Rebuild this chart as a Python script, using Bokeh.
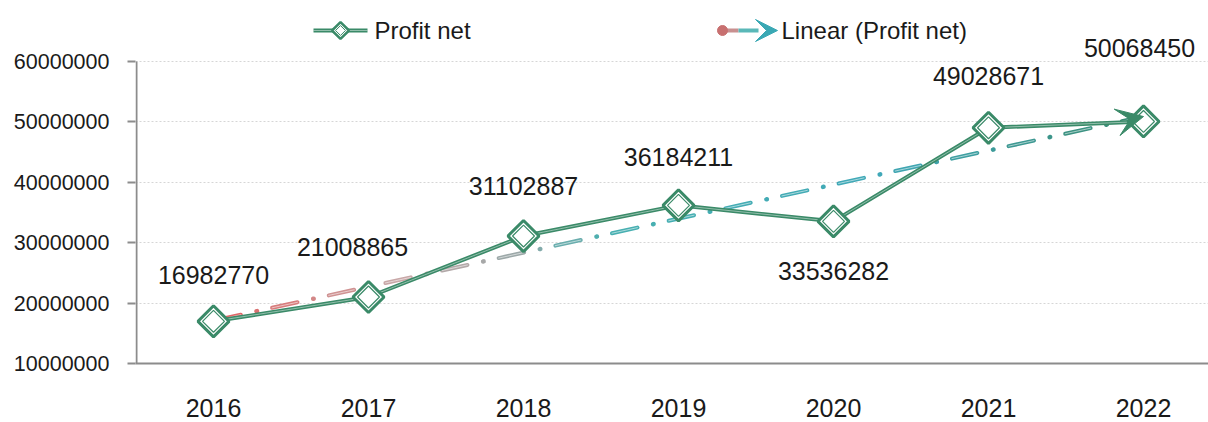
import numpy as np
from bokeh.plotting import figure
from bokeh.models import (ColumnDataSource, FixedTicker, LabelSet, Arrow, VeeHead,
                          Range1d, BasicTickFormatter, Label)
from bokeh.embed import file_html
from bokeh.resources import INLINE
from bokeh.core.properties import value

# ---------------- data ----------------
years = [2016, 2017, 2018, 2019, 2020, 2021, 2022]
profit = [16982770, 21008865, 31102887, 36184211, 33536282, 49028671, 50068450]
y_ticks = [10000000, 20000000, 30000000, 40000000, 50000000, 60000000]
series_name = "Profit net"
trend_name = "Linear (Profit net)"
# label placement (screen px): up positive
label_dy = [46, 50, 50, 48, -50, 52, 73]
label_dx = [0, -16, 0, 0, 0, 0, -4]

# ---------------- layout ----------------
FONT = "Liberation Sans"
GREEN = "#3a8a68"
TXT = "#1a1a1a"
W, H = 1208, 422
LEFT, BOTTOM, TOP = 135, 59, 8
frame_w = W - LEFT
frame_h = H - BOTTOM - TOP
PX_YEAR = 155.0
PX_UNIT = 302 / 50e6
x0 = years[0] - 78 / PX_YEAR
x1 = x0 + frame_w / PX_YEAR
y0 = y_ticks[0]
y1 = y0 + frame_h / PX_UNIT


def sx(px):  # page x -> data x
    return years[0] + (px - 213) / PX_YEAR


def sy(py):  # page y -> data y
    return y_ticks[-1] + (61 - py) / PX_UNIT


p = figure(width=W, height=H, x_range=Range1d(x0, x1), y_range=Range1d(y0, y1),
           output_backend="svg", toolbar_location=None,
           min_border_left=LEFT, min_border_bottom=BOTTOM,
           min_border_top=TOP, min_border_right=0)
p.outline_line_color = None
p.background_fill_color = "white"

# axes
p.yaxis.ticker = FixedTicker(ticks=y_ticks)
p.yaxis.formatter = BasicTickFormatter(use_scientific=False)
p.yaxis.axis_line_color = None
p.yaxis.major_tick_out = 8
p.yaxis.major_tick_in = 0
p.yaxis.major_tick_line_color = "#8c8c8c"
p.yaxis.major_tick_line_width = 2
p.yaxis.minor_tick_line_color = None
p.yaxis.major_label_text_font = FONT
p.yaxis.major_label_text_font_size = "21.5px"
p.yaxis.major_label_text_color = TXT
p.yaxis.major_label_standoff = 18

p.xaxis.ticker = FixedTicker(ticks=years)
p.xaxis.axis_line_color = "#8c8c8c"
p.xaxis.axis_line_width = 2
p.xaxis.major_tick_line_color = None
p.xaxis.minor_tick_line_color = None
p.xaxis.major_label_text_font = FONT
p.xaxis.major_label_text_font_size = "25px"
p.xaxis.major_label_text_color = TXT
p.xaxis.major_label_standoff = 29

p.xgrid.visible = False
p.ygrid.ticker = FixedTicker(ticks=y_ticks[1:])
p.ygrid.grid_line_color = "#d6d6d6"
p.ygrid.grid_line_dash = "2 2"
p.ygrid.grid_line_width = 1

# y axis line (only up to top tick)
p.segment(x0=[x0 + 1 / PX_YEAR], y0=[y_ticks[0]], x1=[x0 + 1 / PX_YEAR], y1=[y_ticks[-1]],
          line_color="#8c8c8c", line_width=2)

# ---------------- trend line ----------------
xs = np.array(years, dtype=float) - years[0]
slope, intercept = np.polyfit(xs, np.array(profit, dtype=float), 1)


def trend(yr):
    return intercept + slope * (yr - years[0])


stops = [(0.0, (224, 96, 96)), (0.2, (200, 168, 168)), (0.32, (156, 168, 168)),
         (0.42, (72, 176, 176)), (0.72, (64, 168, 184)), (1.0, (58, 138, 112))]


def grad(t):
    for (t0, c0), (t1, c1) in zip(stops[:-1], stops[1:]):
        if t <= t1:
            f = (t - t0) / (t1 - t0) if t1 > t0 else 0
            return "#%02x%02x%02x" % tuple(int(round(a + (b - a) * f)) for a, b in zip(c0, c1))
    return "#%02x%02x%02x" % stops[-1][1]


span_years = years[-1] - years[0]
L_year = np.hypot(PX_YEAR, slope * PX_UNIT)
L = span_years * L_year
DASH, GAP1, DOT, GAP2 = 26, 16, 0.6, 15.4
period = DASH + GAP1 + DOT + GAP2
dash_x0, dash_y0, dash_x1, dash_y1, dash_c = [], [], [], [], []
dot_x0, dot_y0, dot_x1, dot_y1, dot_c = [], [], [], [], []
s = 2.0
end_s = L - 14
while s < end_s:
    a, b = s, min(s + DASH, end_s)
    ya, yb = years[0] + a / L_year, years[0] + b / L_year
    dash_x0.append(ya); dash_x1.append(yb)
    dash_y0.append(trend(ya)); dash_y1.append(trend(yb))
    dash_c.append(grad((a + b) / 2 / L))
    d = s + DASH + GAP1
    if d < end_s:
        yd0, yd1 = years[0] + d / L_year, years[0] + (d + DOT) / L_year
        dot_x0.append(yd0); dot_x1.append(yd1)
        dot_y0.append(trend(yd0)); dot_y1.append(trend(yd1))
        dot_c.append(grad(d / L))
    s += period

p.segment(x0=dash_x0, y0=dash_y0, x1=dash_x1, y1=dash_y1, line_color=dash_c,
          line_width=4, line_cap="round")
p.segment(x0=dash_x0, y0=dash_y0, x1=dash_x1, y1=dash_y1, line_color="white",
          line_alpha=0.55, line_width=1, line_cap="round")
p.segment(x0=dot_x0, y0=dot_y0, x1=dot_x1, y1=dot_y1, line_color=dot_c,
          line_width=4.5, line_cap="round")

# ---------------- main series ----------------
p.line(years, profit, line_color=GREEN, line_width=4)
p.line(years, profit, line_color="white", line_alpha=0.45, line_width=1)

# trend start dot & arrow
p.scatter([years[0]], [trend(years[0])], marker="circle", size=11,
          fill_color="#e06666", line_color="#e06666")
p.add_layout(Arrow(end=VeeHead(size=27, fill_color=GREEN, line_color=GREEN, line_width=1),
                   x_start=years[-1] - 0.25, y_start=trend(years[-1] - 0.25),
                   x_end=years[-1], y_end=trend(years[-1]), line_alpha=0))

p.scatter(years, profit, marker="square", angle=np.pi / 4, size=22,
          fill_color="white", line_color=GREEN, line_width=3)
p.scatter(years, profit, marker="square", angle=np.pi / 4, size=15.5,
          fill_color=None, line_color=GREEN, line_width=1.2)

# data labels
src = ColumnDataSource(dict(x=years, y=profit, t=[str(v) for v in profit],
                            dx=label_dx, dy=label_dy))
p.add_layout(LabelSet(x="x", y="y", text="t", source=src, x_offset="dx", y_offset="dy",
                      text_font=value(FONT), text_font_size="25px", text_color=TXT,
                      text_align="center", text_baseline="middle"))

# ---------------- legend (manual) ----------------
ly = sy(30)
p.line([sx(313), sx(367)], [ly, ly], line_color=GREEN, line_width=4)
p.line([sx(313), sx(367)], [ly, ly], line_color="white", line_alpha=0.45, line_width=1)
p.scatter([sx(340)], [ly], marker="square", angle=np.pi / 4, size=12,
          fill_color="white", line_color=GREEN, line_width=2.5)
p.scatter([sx(340)], [ly], marker="square", angle=np.pi / 4, size=7,
          fill_color=None, line_color=GREEN, line_width=1)
p.add_layout(Label(x=sx(374), y=ly, text=series_name, text_font=FONT,
                   text_font_size="24px", text_color=TXT, text_baseline="middle"))

p.segment(x0=[sx(722), sx(738)], y0=[ly, ly], x1=[sx(738), sx(758)], y1=[ly, ly],
          line_color=["#c89090", "#5ab8b8"], line_width=4)
p.scatter([sx(722)], [ly], marker="circle", size=10, fill_color="#c87070",
          line_color="#c87070")
p.add_layout(Arrow(end=VeeHead(size=22, fill_color="#3aa8b4", line_color="#3aa8b4"),
                   x_start=sx(750), y_start=ly, x_end=sx(777), y_end=ly, line_alpha=0))
p.add_layout(Label(x=sx(781), y=ly, text=trend_name, text_font=FONT,
                   text_font_size="24px", text_color=TXT, text_baseline="middle"))

open("out.html", "w").write(file_html(p, INLINE))
